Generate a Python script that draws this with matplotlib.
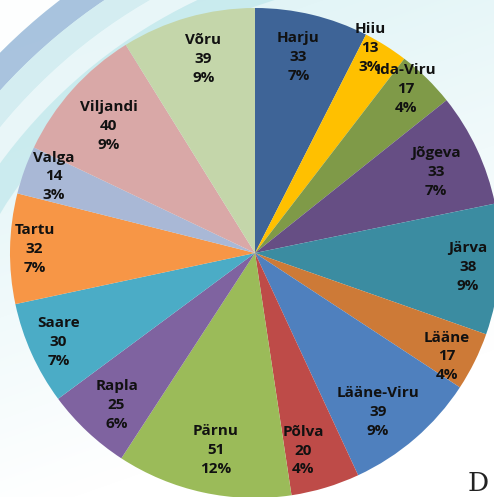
import matplotlib
matplotlib.use("Agg")
import matplotlib.pyplot as plt
import numpy as np
from matplotlib.patches import Wedge, Rectangle

counties = ["Harju", "Hiiu", "Ida-Viru", "Jõgeva", "Järva", "Lääne", "Lääne-Viru",
            "Põlva", "Pärnu", "Rapla", "Saare", "Tartu", "Valga", "Viljandi", "Võru"]
values = [33, 13, 17, 33, 38, 17, 39, 20, 51, 25, 30, 32, 14, 40, 39]
percent_labels = ["7%", "3%", "4%", "7%", "9%", "4%", "9%", "4%", "12%", "6%", "7%", "7%", "3%", "9%", "9%"]

colors = ["#3E6497", "#FFC000", "#7F9A48", "#664E84", "#3B8CA1", "#CD7A37", "#4F80BE",
          "#BE4B48", "#9BBB59", "#7F63A0", "#4BACC6", "#F79646", "#A9B8D6", "#D9A8A7", "#C4D6AA"]
label_r = [0.82, 0.96, 0.91, 0.81, 0.87, 0.89, 0.82, 0.83, 0.82, 0.84, 0.88, 0.90, 0.88, 0.79, 0.82]
label_da = [-1, -3, -2, 1, 0, 2, 3, 3, -1, -1, 0, 0, 1, -1, 1]

W, H = 494, 497
fig = plt.figure(figsize=(W / 100, H / 100), dpi=100)

# background
bg = fig.add_axes([0, 0, 1, 1])
bg.set_xlim(0, W)
bg.set_ylim(H, 0)
bg.axis("off")
yy, xx = np.mgrid[0:H, 0:W]
t = np.clip((yy * 1.0 + xx * 0.35) / (H * 1.05), 0, 1)
c0 = np.array([0.86, 0.95, 0.96])
c1 = np.array([1.0, 1.0, 1.0])
img = c0[None, None, :] * (1 - t[..., None]) + c1[None, None, :] * t[..., None]
bg.imshow(img, extent=[0, W, H, 0], zorder=0, aspect="auto")
cx, cy = 420, 470
for r, w, col, a in [(720, 128, "#FFFFFF", 0.95), (592, 26, "#A3BEDC", 0.9),
                     (566, 24, "#D3EDF1", 0.9), (542, 22, "#EAF7F9", 0.9),
                     (520, 28, "#C2E8EC", 0.75)]:
    bg.add_patch(Wedge((cx, cy), r, 180, 280, width=w, facecolor=col, edgecolor="none",
                       alpha=a, zorder=1))
bg.add_patch(Rectangle((466, 430), 40, 80, facecolor="white", edgecolor="none", zorder=2))
bg.text(468, 496, "D", fontsize=19, family="DejaVu Serif", color="#222222",
        ha="left", va="bottom", zorder=3)

# pie
pcx, pcy, R = 255, 253, 245
ax = fig.add_axes([0, 0, 1, 1])
ax.patch.set_alpha(0)
wedges, _ = ax.pie(values, colors=colors, startangle=90, counterclock=False, radius=1.0,
                   wedgeprops=dict(edgecolor="none"))
ax.set_xlim(-pcx / R, (W - pcx) / R)
ax.set_ylim(-(H - pcy) / R, pcy / R)
ax.set_aspect("auto")
ax.axis("off")
total = sum(values)
cum = np.cumsum([0] + values)
for i, name in enumerate(counties):
    mid = (cum[i] + cum[i + 1]) / 2 / total * 360 + label_da[i]
    ang = np.deg2rad(90 - mid)
    x = label_r[i] * np.cos(ang)
    y = label_r[i] * np.sin(ang)
    ax.text(x, y, f"{name}\n{values[i]}\n{percent_labels[i]}", ha="center", va="center",
            fontsize=11, fontweight="bold", family=["Open Sans", "DejaVu Sans"],
            color="#111111", linespacing=1.45)

fig.savefig("out.png", dpi=100)
